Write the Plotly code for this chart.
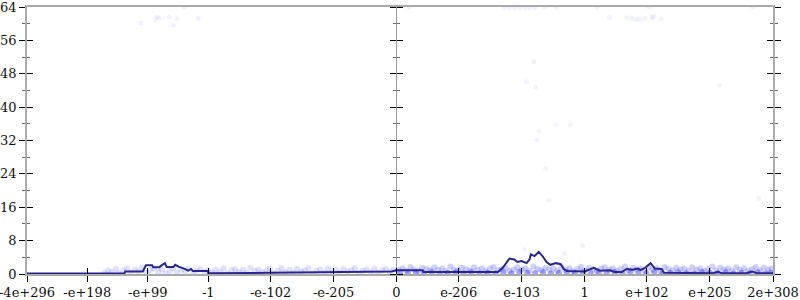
import struct
import plotly.graph_objects as go

DMAX = 1.7976931348623157e308

# ---- axis ticks ----
x_tick_values = [-4e296, -1e198, -1e99, -1.0, -1e-102, -1e-205, 0.0,
                 1e-206, 1e-103, 1.0, 1e102, 1e205, DMAX]
x_tick_labels = ["-4e+296", "-e+198", "-e+99", "-1", "-e-102", "-e-205", "0",
                 "e-206", "e-103", "1", "e+102", "e+205", "2e+308"]
y_tick_values = [0, 8, 16, 24, 32, 40, 48, 56, 64]
y_tick_labels = ["0", "8", "16", "24", "32", "40", "48", "56", "64"]

# ---- averaged error line ----
line_x = [-4e296, -1e137, -1e136, -1e107, -1e102, -1e92, -1e90, -1e80, -1e77,
          -1e71, -1e68, -1e57, -1e54, -1e48, -1e39, -1e33, -1e28, -1e25,
          -1.1, -1.0, -1e-100, -1e-200, -1e-300,
          0.0, 1e-265, 1e-264, 1e-142, 1e-134, 1e-129, 1e-123, 1e-115, 1e-110,
          1e-103, 1e-95, 1e-90, 1e-88, 1e-82, 1e-75, 1e-69, 1e-62, 1e-56,
          1e-47, 1e-39, 1e-34, 1e-29, 1.0, 1e15, 1e25, 1e41, 1e49, 1e61,
          1e69, 1e79, 1e87, 1e92, 1e98, 1e108, 1e115, 1e126, 1e130, 1e210,
          1e218, 1e225, 1e265, 1e274, 1e282, DMAX]
line_y = [0.1, 0.1, 0.6, 0.6, 2.1, 2.1, 1.6, 1.6, 2.0,
          2.6, 1.7, 1.7, 2.2, 1.7, 1.3, 0.8, 1.2, 0.7,
          0.7, 0.15, 0.3, 0.45, 0.6,
          0.9, 0.9, 0.5, 0.5, 1.5, 2.5, 3.7, 3.5, 2.9,
          3.1, 2.6, 3.5, 4.7, 4.3, 5.3, 4.3, 2.8, 2.2,
          2.6, 2.35, 1.2, 0.7, 0.6, 1.5, 0.8, 0.9, 0.5, 0.5,
          1.2, 1.0, 1.3, 1.0, 1.4, 2.6, 1.3, 1.2, 0.3, 0.2,
          0.5, 0.2, 0.2, 0.6, 0.2, 0.2]

# ---- sampled points (x, bits of error) ----
neg_band = [(-1e170, 0.3), (-1e164, 0.9), (-1e158, 0.5), (-1e151, 1.2), (-1e146, 0.2),
            (-1e139, 0.8), (-1e133, 1.4), (-1e127, 0.4), (-1e120, 1.0), (-1e114, 0.6),
            (-1e108, 1.5), (-1e101, 0.3), (-1e95, 0.9), (-1e89, 1.3), (-1e82, 0.5),
            (-1e76, 1.1), (-1e70, 0.2), (-1e63, 0.7), (-1e57, 1.4), (-1e51, 0.4),
            (-1e44, 1.0), (-1e38, 0.6), (-1e32, 1.3), (-1e25, 0.2), (-1e19, 0.8),
            (-1e13, 1.2), (-1e6, 0.5), (-1.0, 0.9), (-1e-6, 0.3), (-1e-12, 1.1),
            (-1e-19, 0.6), (-1e-25, 1.4), (-1e-31, 0.2), (-1e-38, 0.9), (-1e-44, 1.2),
            (-1e-50, 0.5), (-1e-57, 1.0), (-1e-63, 0.3), (-1e-69, 1.5), (-1e-76, 0.7),
            (-1e-82, 1.1), (-1e-88, 0.4), (-1e-95, 0.9), (-1e-101, 1.3), (-1e-107, 0.2),
            (-1e-114, 0.8), (-1e-120, 1.4), (-1e-126, 0.5), (-1e-133, 1.0), (-1e-139, 0.3),
            (-1e-145, 1.2), (-1e-152, 0.6), (-1e-158, 0.9), (-1e-164, 1.4), (-1e-171, 0.2),
            (-1e-177, 0.8), (-1e-183, 1.1), (-1e-190, 0.4), (-1e-196, 1.3), (-1e-202, 0.7),
            (-1e-209, 1.0), (-1e-215, 0.3), (-1e-221, 1.2), (-1e-228, 0.6), (-1e-234, 0.9),
            (-1e-240, 1.4), (-1e-247, 0.2), (-1e-253, 0.8), (-1e-259, 1.1), (-1e-266, 0.5),
            (-1e-272, 1.3), (-1e-278, 0.3), (-1e-285, 0.9), (-1e-291, 1.2), (-1e-297, 0.5),
            (-1e-303, 1.0)]

pos_band_upper = [(1e-305, 1.0), (1e-298, 1.4), (1e-292, 0.8), (1e-285, 1.7), (1e-279, 1.1),
                  (1e-272, 0.7), (1e-266, 1.5), (1e-259, 1.2), (1e-253, 0.9), (1e-246, 1.6),
                  (1e-240, 1.0), (1e-233, 1.3), (1e-227, 0.7), (1e-220, 1.8), (1e-214, 1.1),
                  (1e-207, 0.9), (1e-201, 1.5), (1e-194, 1.2), (1e-188, 0.8), (1e-181, 1.6),
                  (1e-175, 1.0), (1e-168, 1.4), (1e-162, 0.7), (1e-155, 1.3), (1e-149, 1.7),
                  (1e-142, 0.9), (1e-136, 1.2), (1e-129, 1.5), (1e-123, 0.8), (1e-116, 1.1),
                  (1e-110, 1.6), (1e-103, 1.0), (1e-97, 1.4), (1e-90, 0.7), (1e-84, 1.8),
                  (1e-77, 1.2), (1e-71, 0.9), (1e-64, 1.5), (1e-58, 1.1), (1e-51, 1.3),
                  (1e-45, 0.8), (1e-38, 1.6), (1e-32, 1.0), (1e-25, 1.4), (1e-19, 0.7),
                  (1e-12, 1.2), (1e-6, 1.7), (10.0, 0.9), (1e7, 1.5), (1e14, 1.1),
                  (1e20, 0.8), (1e27, 1.3), (1e33, 1.6), (1e40, 1.0), (1e46, 1.4),
                  (1e53, 0.7), (1e59, 1.2), (1e66, 1.8), (1e72, 0.9), (1e79, 1.5),
                  (1e85, 1.1), (1e92, 1.3), (1e98, 0.8), (1e105, 1.6), (1e111, 1.0),
                  (1e118, 1.4), (1e124, 0.7), (1e131, 1.7), (1e137, 1.2), (1e144, 0.9),
                  (1e150, 1.5), (1e157, 1.1), (1e163, 1.3), (1e170, 0.8), (1e176, 1.6),
                  (1e183, 1.0), (1e189, 1.4), (1e196, 0.7), (1e202, 1.2), (1e209, 1.8),
                  (1e215, 0.9), (1e222, 1.5), (1e228, 1.1), (1e235, 1.3), (1e241, 0.8),
                  (1e248, 1.6), (1e254, 1.0), (1e261, 1.4), (1e267, 0.7), (1e274, 1.2),
                  (1e280, 1.7), (1e287, 0.9), (1e293, 1.5), (1e300, 1.1), (1e306, 1.3)]

pos_band_lower = [(1e-302, 0.3), (1e-289, 0.1), (1e-276, 0.4), (1e-263, 0.2), (1e-250, 0.5),
                  (1e-237, 0.1), (1e-224, 0.3), (1e-211, 0.4), (1e-198, 0.2), (1e-185, 0.5),
                  (1e-172, 0.1), (1e-159, 0.3), (1e-146, 0.2), (1e-133, 0.4), (1e-120, 0.1),
                  (1e-107, 0.5), (1e-94, 0.3), (1e-81, 0.2), (1e-68, 0.4), (1e-55, 0.1),
                  (1e-42, 0.3), (1e-29, 0.5), (1e-16, 0.2), (1e-3, 0.4), (1e10, 0.1),
                  (1e23, 0.3), (1e36, 0.2), (1e49, 0.5), (1e62, 0.1), (1e75, 0.4),
                  (1e88, 0.3), (1e101, 0.2), (1e114, 0.5), (1e127, 0.1), (1e140, 0.3),
                  (1e153, 0.4), (1e166, 0.2), (1e179, 0.1), (1e192, 0.5), (1e205, 0.3),
                  (1e218, 0.2), (1e231, 0.4), (1e244, 0.1), (1e257, 0.3), (1e270, 0.2),
                  (1e283, 0.4), (1e296, 0.1), (1e305, 0.3)]

outliers = [(-1e110, 60.2), (-1e87, 61.0), (-1e84, 61.6), (-1e80, 61.3), (-1e64, 61.6),
            (-1e51, 61.2), (-1e57, 59.6), (-1e39, 63.9), (-1e16, 61.3),
            (1e-287, 63.8), (1e-131, 63.8), (1e-123, 63.8), (1e-115, 63.8), (1e-106, 63.8),
            (1e-98, 63.8), (1e-90, 63.8), (1e-82, 63.8), (1e-65, 63.8), (1e-46, 63.8),
            (1e20, 63.9), (1e41, 61.5), (1e69, 61.5), (1e77, 61.3), (1e84, 61.0),
            (1e90, 61.0), (1e98, 61.2), (1e110, 61.5), (1e113, 61.7), (1e125, 61.2),
            (1e105, 64.0), (1e275, 64.0),
            (1e-83, 50.9), (1e-95, 46.1), (1e-80, 44.9), (1e221, 45.2),
            (1e-47, 35.8), (1e-23, 35.8), (1e-75, 34.2), (1e-78, 32.2),
            (1e-64, 25.3), (1e-59, 17.7), (1e-98, 5.9), (1e-33, 4.9), (1e-3, 6.8),
            (1e285, 18.1)]


def ordinal(v):
    """Position of a double in floating-point ordinal order (units of 2**52)."""
    if v == 0:
        return 0.0
    bits = struct.unpack('<q', struct.pack('<d', abs(v)))[0]
    o = bits / 2 ** 52
    return o if v > 0 else -o


def to_axis(values):
    return [ordinal(v) for v in values]


def split(pairs):
    return to_axis([p[0] for p in pairs]), [p[1] for p in pairs]


x_range = [ordinal(x_tick_values[0]), ordinal(x_tick_values[-1])]
y_range = [0, 64]
mid_pos = (0 - x_range[0]) / (x_range[1] - x_range[0])

FONT = dict(family="DejaVu Serif", size=13, color="#111")
AXIS_GRAY = "#aaaaaa"

fig = go.Figure()
for pairs, alpha, size in [(neg_band, 0.12, 6), (pos_band_upper, 0.18, 6),
                           (pos_band_lower, 0.35, 6), (outliers, 0.05, 5)]:
    px, py = split(pairs)
    fig.add_trace(go.Scatter(
        x=px, y=py, mode="markers",
        marker=dict(size=size, color=f"rgba(0,0,255,{alpha})", line=dict(width=0)),
        showlegend=False, hoverinfo="skip"))
fig.add_trace(go.Scatter(
    x=to_axis(line_x), y=line_y, mode="lines",
    line=dict(color="rgb(38,38,140)", width=2),
    showlegend=False, hoverinfo="skip"))
# empty traces so the overlay axes (crossing ticks / middle axis) are drawn
fig.add_trace(go.Scatter(x=[None], y=[None], xaxis="x2", yaxis="y2", showlegend=False))
fig.add_trace(go.Scatter(x=[None], y=[None], xaxis="x", yaxis="y3", showlegend=False))
fig.add_trace(go.Scatter(x=[None], y=[None], xaxis="x", yaxis="y4", showlegend=False))

minor_out = dict(dtick=4, ticks="outside", ticklen=3, tickcolor="#666", showgrid=False)
minor_in = dict(dtick=4, ticks="inside", ticklen=3, tickcolor="#666", showgrid=False)

fig.update_layout(
    width=800, height=300,
    margin=dict(l=27, r=27, t=7, b=26, autoexpand=False),
    paper_bgcolor="white", plot_bgcolor="white",
    font=FONT,
    xaxis=dict(range=x_range, tickmode="array", tickvals=to_axis(x_tick_values),
               ticktext=x_tick_labels, ticks="outside", ticklen=6, tickcolor="black",
               showline=True, linecolor=AXIS_GRAY, linewidth=1.5, mirror=True,
               showgrid=False, zeroline=False, tickfont=FONT, automargin=False,
               ticklabeloverflow="allow"),
    xaxis2=dict(range=x_range, overlaying="x", anchor="y", side="bottom",
                tickmode="array", tickvals=to_axis(x_tick_values),
                ticks="inside", ticklen=6, tickcolor="black", showticklabels=False,
                showline=False, showgrid=False, zeroline=False, automargin=False),
    yaxis=dict(range=y_range, tickmode="array", tickvals=y_tick_values,
               ticktext=y_tick_labels, ticks="outside", ticklen=6, tickcolor="black",
               showline=True, linecolor=AXIS_GRAY, linewidth=1.5, mirror="ticks",
               showgrid=False, zeroline=False, tickfont=FONT, minor=minor_out,
               automargin=False, ticklabeloverflow="allow"),
    yaxis2=dict(range=y_range, overlaying="y", anchor="x2", tickmode="array",
                tickvals=y_tick_values, ticks="inside", ticklen=6, tickcolor="black",
                showline=True, linecolor=AXIS_GRAY, linewidth=1.5, mirror="ticks",
                showticklabels=False, showgrid=False, zeroline=False, minor=minor_in,
                automargin=False),
    yaxis3=dict(range=y_range, overlaying="y", anchor="free", position=mid_pos,
                side="left", tickmode="array", tickvals=y_tick_values, ticks="outside",
                ticklen=6, tickcolor="black", showline=True, linecolor="#999",
                linewidth=1, showticklabels=False, showgrid=False, zeroline=False,
                minor=minor_out, automargin=False),
    yaxis4=dict(range=y_range, overlaying="y", anchor="free", position=mid_pos,
                side="right", tickmode="array", tickvals=y_tick_values, ticks="outside",
                ticklen=6, tickcolor="black", showline=True, linecolor="#999",
                linewidth=1, showticklabels=False, showgrid=False, zeroline=False,
                minor=minor_out, automargin=False),
)

fig.write_html("out.html")
